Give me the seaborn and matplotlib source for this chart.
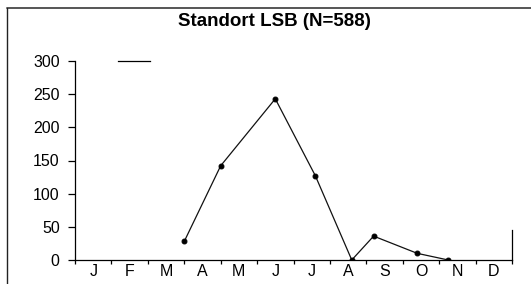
import matplotlib
matplotlib.use("Agg")
import matplotlib.pyplot as plt
from matplotlib.lines import Line2D
import seaborn as sns
import pandas as pd

# data (x in month units, 1 = Jan centre)
sample_pos = [3.5, 4.5, 6.0, 7.1, 8.1, 8.7, 9.9, 10.75]
counts = [28, 142, 243, 127, 0, 36, 10, 0]
month_labels = ["J", "F", "M", "A", "M", "J", "J", "A", "S", "O", "N", "D"]
y_ticks = [0, 50, 100, 150, 200, 250, 300]
title = "Standort LSB (N=588)"

sns.set_theme(style="ticks")
plt.rcParams['font.family'] = ['Liberation Sans', 'DejaVu Sans']

fig = plt.figure(figsize=(5.31, 2.84), dpi=100)
ax = fig.add_axes([75 / 531, (284 - 260) / 284, 437 / 531, 199 / 284])

df = pd.DataFrame({"x": sample_pos, "y": counts})
sns.lineplot(data=df, x="x", y="y", ax=ax, color="#111111", linewidth=0.9,
             marker="o", markersize=3.5, markeredgecolor="black", markerfacecolor="black")

ax.set_xlim(0.5, 12.5)
ax.set_ylim(0, 300)
ax.set_xticks([i + 0.5 for i in range(13)])
ax.set_xticklabels([])
ax.set_xticks(list(range(1, 13)), minor=True)
ax.set_xticklabels(month_labels, minor=True)
ax.tick_params(axis="x", which="minor", length=0, pad=3, labelsize=11.5, colors="black")
ax.tick_params(axis="x", which="major", length=3, width=0.9, direction="out", colors="black")
ax.set_yticks(y_ticks)
ax.tick_params(axis="y", length=5, width=0.9, pad=6, labelsize=11.5, colors="black")
ax.set_xlabel("")
ax.set_ylabel("")

for s in ax.spines.values():
    s.set_color("black")
    s.set_linewidth(0.9)
ax.spines["right"].set_bounds(0, 45)
ax.spines["top"].set_bounds(1.68, 2.56)

# scan frame
fig.add_artist(Line2D([7 / 531, 1.0], [1 - 8 / 284, 1 - 8 / 284], transform=fig.transFigure,
                      color="#555555", linewidth=1.4))
fig.add_artist(Line2D([7 / 531, 7 / 531], [0, 1 - 8 / 284], transform=fig.transFigure,
                      color="#222222", linewidth=1.0))

fig.text(274 / 531, 1 - 21 / 284, title, ha="center", va="center",
         fontsize=13.5, fontweight="bold", color="black")

fig.savefig("out.png", dpi=100)
